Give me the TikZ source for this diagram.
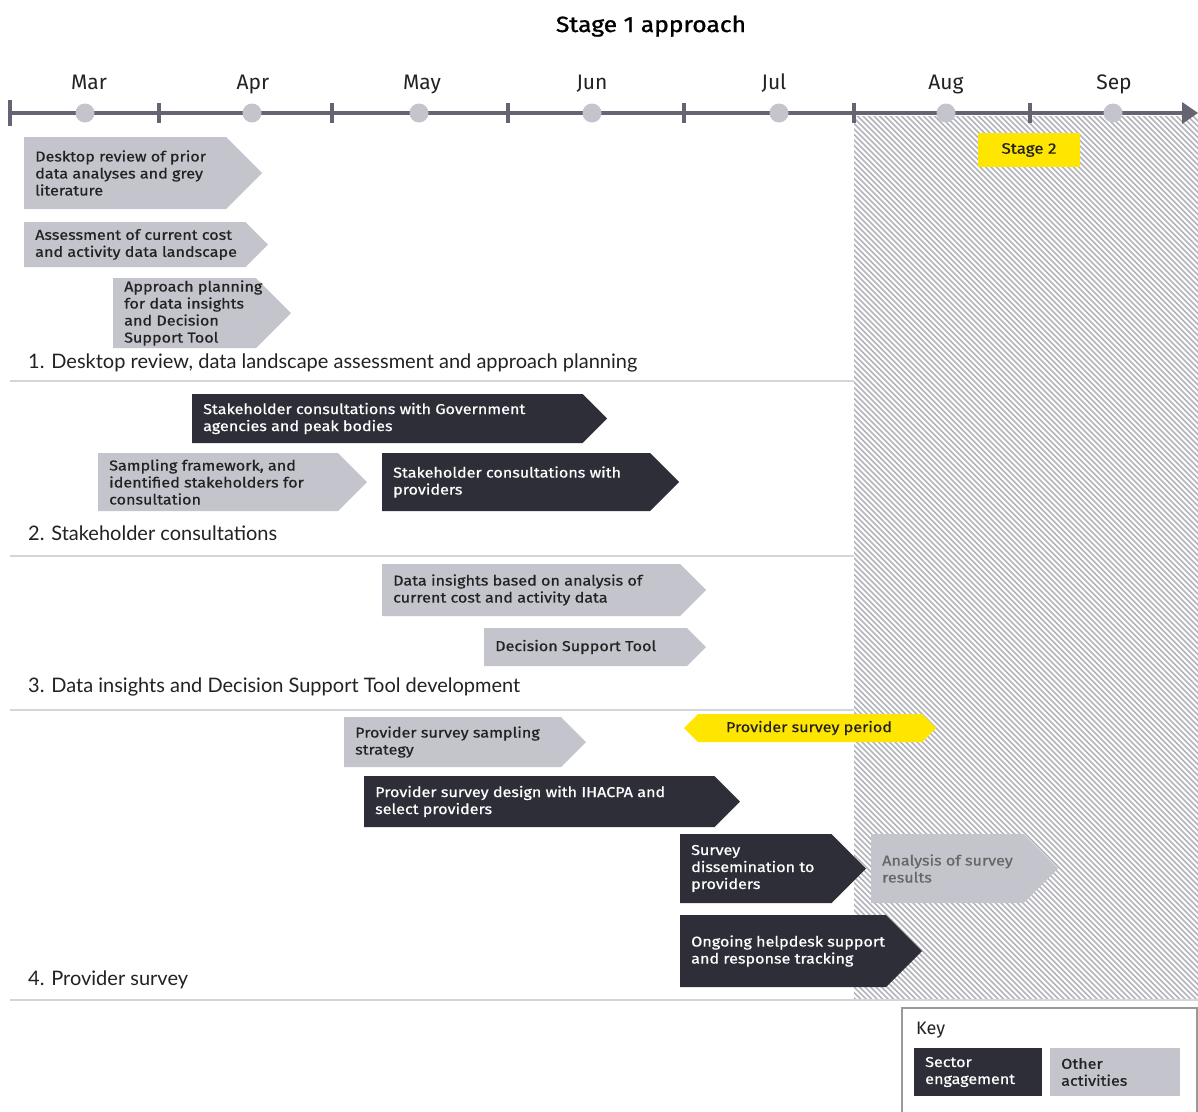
\documentclass[tikz,border=0pt]{standalone}
\usepackage{fontspec}
\setmainfont{Fira Sans}
\newfontfamily\boxfont[FakeStretch=1.13,FakeBold=0.6]{Fira Sans}
\newfontfamily\titlefont[FakeStretch=1.12,FakeBold=1.2]{Fira Sans}
\newfontfamily\secfont{Lato}
\definecolor{eydark}{HTML}{2E2E38}
\definecolor{eygray}{HTML}{C4C4CD}
\definecolor{eyyellow}{HTML}{FFE600}
\definecolor{tline}{HTML}{646473}
\definecolor{sepline}{HTML}{D4D4DA}
\definecolor{hatch}{HTML}{B4B4BC}
\definecolor{txt}{HTML}{222222}
\tikzset{
  darkbox/.style={fill=eydark},
  graybox/.style={fill=eygray},
  darktext/.style={text=white,font=\boxfont\fontsize{14.3}{17}\selectfont,align=left,inner sep=0pt},
  graytext/.style={text=txt,font=\boxfont\fontsize{14.3}{17}\selectfont,align=left,inner sep=0pt},
  month/.style={text=txt,font=\fontsize{21}{24}\selectfont,inner sep=0pt,anchor=base},
  seclabel/.style={text=txt,font=\secfont\fontsize{20}{22}\selectfont,anchor=base west,inner sep=0pt},
  sep/.style={draw=sepline,line width=1.6pt},
}
% name, x1, y1, xtip, y2, boxstyle, textstyle, text
\newcommand\chev[8]{%
  \pgfmathsetmacro\ym{(#3+#5)/2}%
  \pgfmathsetmacro\xr{#4-(#5-#3)/2}%
  \fill[#6] (#2,#3) -- (\xr,#3) -- (#4,\ym) -- (\xr,#5) -- (#2,#5) -- cycle;
  \node[#7,anchor=west] (#1) at (#2+11,\ym) {#8};
}
\begin{document}
\begin{tikzpicture}[x=1pt,y=-1pt]
\useasboundingbox (0,0) rectangle (1198,1111);
\fill[white] (0,0) rectangle (1198,1111);
% hatched stage 2 region
\begin{scope}
  \clip (854,116) rectangle (1198,1000);
  \foreach \a in {-900,-894.5,...,1200}
    \draw[hatch,line width=1.7pt] (\a,113) -- (\a+890,1003);
\end{scope}
% title
\node[font=\titlefont\fontsize{22}{25}\selectfont,text=black,anchor=base] (title) at (651,32) {Stage 1 approach};
% timeline
\draw[tline,line width=4pt] (10,113) -- (1186,113);
\fill[tline] (1182,102) -- (1198,113) -- (1182,124) -- cycle;
\draw[tline,line width=4pt] (10,100) -- (10,126);
\foreach \x in {159,332,508,684,854,1030}
  \draw[tline,line width=4pt] (\x,103) -- (\x,123);
\foreach \x/\m in {85/mar,252/apr,419/may,592/jun,779/jul,946/aug,1113/sep}
  \fill[eygray] (\x,113) circle (9.5);
\node[month] (mar) at (89,89) {Mar};
\node[month] (apr) at (253,89) {Apr};
\node[month] (may) at (422,89) {May};
\node[month] (jun) at (592,89) {Jun};
\node[month] (jul) at (774,89) {Jul};
\node[month] (aug) at (946,89) {Aug};
\node[month] (sep) at (1114,89) {Sep};
% stage 2
\fill[eyyellow] (978,133) rectangle (1080,167);
\node[graytext,font=\boxfont\fontsize{15}{17}\selectfont] (stage2) at (1029,150) {Stage 2};
% separators
\draw[sep] (10,381) -- (854,381);
\draw[sep] (10,556) -- (854,556);
\draw[sep] (10,710) -- (854,710);
\draw[sep] (10,1000) -- (1198,1000);
% section labels
\node[seclabel] (s1) at (28,368) {1. Desktop review, data landscape assessment and approach planning};
\node[seclabel] (s2) at (28,540) {2. Stakeholder consultations};
\node[seclabel] (s3) at (28,692) {3. Data insights and Decision Support Tool development};
\node[seclabel] (s4) at (28,985) {4. Provider survey};
% section 1
\chev{desk}{24}{137}{262}{209}{graybox}{graytext}{Desktop review of prior\\data analyses and grey\\literature}
\chev{assess}{24}{222}{268}{267}{graybox}{graytext}{Assessment of current cost\\and activity data landscape}
\chev{approach}{113}{278}{291}{348}{graybox}{graytext}{Approach planning\\for data insights\\and Decision\\Support Tool}
% section 2
\chev{govt}{192}{394}{607}{443}{darkbox}{darktext}{Stakeholder consultations with Government\\agencies and peak bodies}
\chev{sampl}{98}{453}{367}{511}{graybox}{graytext}{Sampling framework, and\\identified stakeholders for\\consultation}
\chev{prov}{382}{453}{679}{511}{darkbox}{darktext}{Stakeholder consultations with\\providers}
% section 3
\chev{datains}{382}{564}{706}{616}{graybox}{graytext}{Data insights based on analysis of\\current cost and activity data}
\chev{dst}{484}{628}{706}{666}{graybox}{graytext}{Decision Support Tool}
% section 4
\chev{pss}{344}{717}{586}{767}{graybox}{graytext}{Provider survey sampling\\strategy}
\fill[eyyellow] (684,728) -- (698,714) -- (922,714) -- (936,728) -- (922,742) -- (698,742) -- cycle;
\node[graytext] (period) at (809,728) {Provider survey period};
\chev{psd}{364}{776}{740}{827}{darkbox}{darktext}{Provider survey design with IHACPA and\\select providers}
\chev{sdiss}{680}{834}{866}{903}{darkbox}{darktext}{Survey\\dissemination to\\providers}
\chev{anal}{871}{834}{1058}{903}{graybox}{graytext,text=black!60}{Analysis of survey\\results}
\chev{help}{680}{915}{922}{987}{darkbox}{darktext}{Ongoing helpdesk support\\and response tracking}
% key
\fill[white] (902,1008) rectangle (1198,1111);
\draw[draw=black!40,line width=2pt] (902,1120) -- (902,1008) -- (1197,1008) -- (1197,1120);
\node[month,font=\fontsize{18}{20}\selectfont,anchor=west] (key) at (916,1030) {Key};
\fill[eydark] (914,1048) rectangle (1042,1096);
\node[darktext,anchor=west] (sector) at (925,1072) {Sector\\engagement};
\fill[eygray] (1050,1048) rectangle (1180,1096);
\node[graytext,anchor=west] (other) at (1061,1072) {Other\\activities};
\end{tikzpicture}
\end{document}
